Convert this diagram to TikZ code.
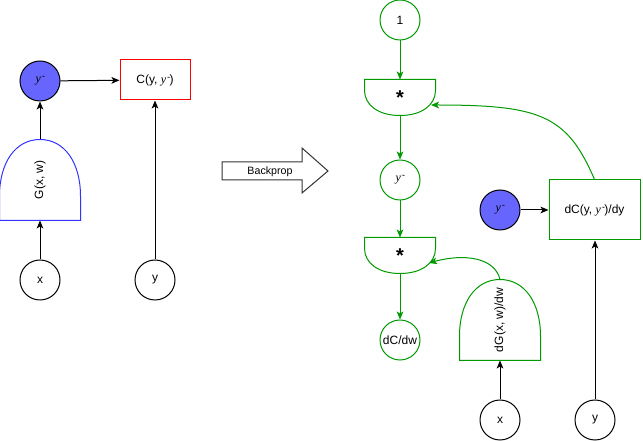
\documentclass[tikz,border=0pt]{standalone}
\usepackage{fontspec}
\setmainfont{Liberation Sans}
\newfontfamily\yfont{Liberation Serif}
\usetikzlibrary{arrows.meta, calc}
\definecolor{gsgreen}{RGB}{0,153,0}
\definecolor{gsblue}{RGB}{51,51,255}
\definecolor{gsfill}{RGB}{102,102,255}
\definecolor{gsred}{RGB}{255,0,0}
\newcommand{\ypred}{{\yfont\itshape y\kern0.3pt{\fontsize{7}{7}\selectfont\char"02DC}}}

\begin{document}
\begin{tikzpicture}[x=0.75pt,y=-0.75pt,line width=0.75pt,
    >={Stealth[length=6pt,width=5pt,inset=1.5pt]},
    every node/.style={font=\fontsize{9}{11}\selectfont},
    var/.style={circle,draw,minimum size=30pt,inner sep=0pt},
    gvar/.style={var,draw=gsgreen},
    hatvar/.style={var,fill=gsfill},
    opbox/.style={inner sep=0pt,minimum width=52.5pt,minimum height=26.25pt,
      font=\bfseries\fontsize{15}{17}\selectfont},
    genbox/.style={inner sep=0pt,minimum width=60pt,minimum height=60pt},
    costbox/.style={draw,inner sep=0pt,minimum height=#1},
    gline/.style={draw=gsgreen}]
  \useasboundingbox (0,0) rectangle (643,441);
  % forward pass
  \node[hatvar] (yhatL) at (40,81) {\ypred};
  \node[costbox=30pt,draw=gsred,minimum width=52.5pt] (costL) at (155,80) {C(y, \ypred)};
  \node[genbox] (genL) at (40,180) {\rotatebox{90}{G(x, w)}};
  \node[var] (xL) at (40,280) {x};
  \node[var] (yL) at (155,280) {y};
  \draw[->] (xL) -- (genL.south);
  \draw[->] (genL.north) -- (yhatL);
  \draw[->] (yhatL) -- (costL);
  \draw[->] (yL) -- (costL);
  % backprop arrow
  \draw[black!80] (222,162) -- (302,162) -- (302,148) -- (328,171)
    -- (302,193) -- (302,180) -- (222,180) -- cycle;
  \node[font=\fontsize{8}{10}\selectfont] (bp) at (270,172) {Backprop};
  % backward pass
  \node[gvar] (one) at (400,20) {1};
  \node[opbox] (mulA) at (400,97.5) {\raisebox{-2pt}{*}};
  \node[gvar] (yhatR) at (400,180) {\ypred};
  \node[opbox] (mulB) at (400,255.5) {\raisebox{-2pt}{*}};
  \node[gvar] (dcdw) at (400,340) {dC/dw};
  \node[genbox] (dgen) at (500,320) {\rotatebox{90}{dG(x, w)/dw}};
  \node[var] (xR) at (500,420) {x};
  \node[var] (yR) at (595,420) {y};
  \node[hatvar] (yhatB) at (500,210) {\ypred};
  \node[costbox=45pt,draw=gsgreen,minimum width=68.25pt] (dcost) at (594.5,210) {dC(y, \ypred)/dy};
  % gate outlines
  \foreach \g/\c in {genL/gsblue,dgen/gsgreen}
    \draw[draw=\c] (\g.south west) -- (\g.south east) -- ($(\g.south east)!0.3!(\g.north east)$)
      .. controls ($(\g.south east)!0.72!(\g.north east)$) and ($(\g.north)!0.6!(\g.north east)$) .. (\g.north)
      .. controls ($(\g.north)!0.6!(\g.north west)$) and ($(\g.south west)!0.72!(\g.north west)$) .. ($(\g.south west)!0.3!(\g.north west)$) -- cycle;
  \foreach \m in {mulA,mulB}
    \draw[gline] (\m.north west) -- (\m.north east) -- ($(\m.north east)!0.3!(\m.south east)$)
      .. controls ($(\m.north east)!0.72!(\m.south east)$) and ($(\m.south)!0.6!(\m.south east)$) .. (\m.south)
      .. controls ($(\m.south)!0.6!(\m.south west)$) and ($(\m.north west)!0.72!(\m.south west)$) .. ($(\m.north west)!0.3!(\m.south west)$) -- cycle;
  \coordinate (mulAin) at (431,105);
  \coordinate (mulBin) at (429,263);
  \draw[->,gsgreen] (one) -- (mulA.north);
  \draw[->,gsgreen] (mulA.south) -- (yhatR);
  \draw[->,gsgreen] (yhatR) -- (mulB.north);
  \draw[->,gsgreen] (mulB.south) -- (dcdw);
  \draw[->,gsgreen] (dcost.north) .. controls (567,115) and (540,105) .. (mulAin);
  \draw[->,gsgreen] (dgen.north) .. controls (495,258) and (465,253) .. (mulBin);
  \draw[->] (xR) -- (dgen.south);
  \draw[->] (yR) -- (yR |- dcost.south);
  \draw[->] (yhatB) -- (dcost);
\end{tikzpicture}
\end{document}
